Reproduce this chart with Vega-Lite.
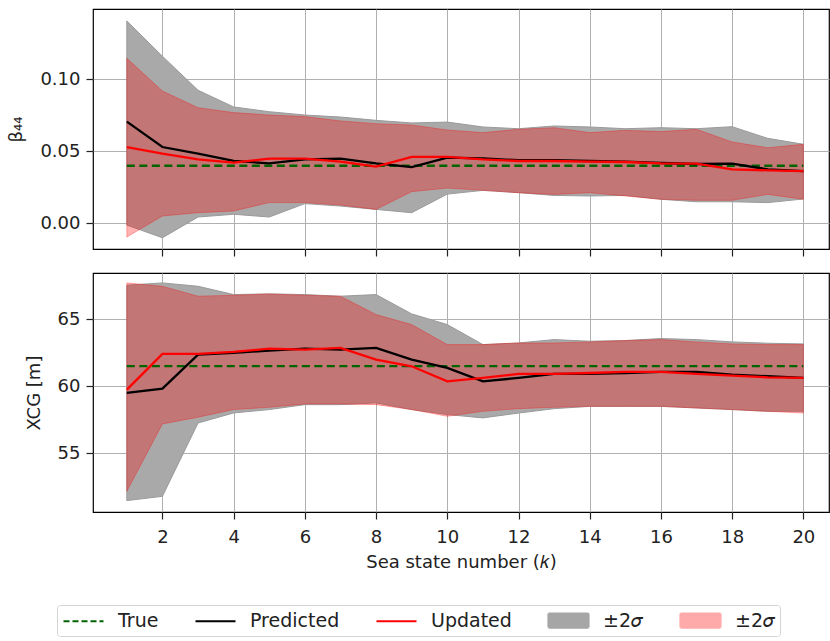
{
  "$schema": "https://vega.github.io/schema/vega-lite/v6.json",
  "padding": {"left": 7, "top": 8, "right": 0, "bottom": 0},
  "background": "white",
  "spacing": 14,
  "datasets": {
    "beta": [
      {"k": 1, "truth": 0.04, "pred": 0.0706, "pred_lo": -0.0012, "pred_hi": 0.1405, "upd": 0.053, "upd_lo": -0.0095, "upd_hi": 0.1146},
      {"k": 2, "truth": 0.04, "pred": 0.053, "pred_lo": -0.010, "pred_hi": 0.116, "upd": 0.0484, "upd_lo": 0.0051, "upd_hi": 0.0919},
      {"k": 3, "truth": 0.04, "pred": 0.0484, "pred_lo": 0.0044, "pred_hi": 0.0924, "upd": 0.0444, "upd_lo": 0.0074, "upd_hi": 0.0803},
      {"k": 4, "truth": 0.04, "pred": 0.0433, "pred_lo": 0.0063, "pred_hi": 0.0808, "upd": 0.0421, "upd_lo": 0.0086, "upd_hi": 0.0769},
      {"k": 5, "truth": 0.04, "pred": 0.0417, "pred_lo": 0.0044, "pred_hi": 0.0775, "upd": 0.0449, "upd_lo": 0.0144, "upd_hi": 0.0752},
      {"k": 6, "truth": 0.04, "pred": 0.0444, "pred_lo": 0.0137, "pred_hi": 0.0752, "upd": 0.0449, "upd_lo": 0.0144, "upd_hi": 0.0741},
      {"k": 7, "truth": 0.04, "pred": 0.0449, "pred_lo": 0.012, "pred_hi": 0.0738, "upd": 0.0428, "upd_lo": 0.0127, "upd_hi": 0.0711},
      {"k": 8, "truth": 0.04, "pred": 0.0417, "pred_lo": 0.0097, "pred_hi": 0.0715, "upd": 0.0394, "upd_lo": 0.0097, "upd_hi": 0.0692},
      {"k": 9, "truth": 0.04, "pred": 0.0391, "pred_lo": 0.0074, "pred_hi": 0.0697, "upd": 0.0461, "upd_lo": 0.022, "upd_hi": 0.0683},
      {"k": 10, "truth": 0.04, "pred": 0.0456, "pred_lo": 0.0203, "pred_hi": 0.0703, "upd": 0.0461, "upd_lo": 0.0245, "upd_hi": 0.0648},
      {"k": 11, "truth": 0.04, "pred": 0.0451, "pred_lo": 0.0229, "pred_hi": 0.0669, "upd": 0.0444, "upd_lo": 0.0229, "upd_hi": 0.063},
      {"k": 12, "truth": 0.04, "pred": 0.0438, "pred_lo": 0.0213, "pred_hi": 0.0657, "upd": 0.0433, "upd_lo": 0.0213, "upd_hi": 0.0653},
      {"k": 13, "truth": 0.04, "pred": 0.0438, "pred_lo": 0.0194, "pred_hi": 0.0676, "upd": 0.0433, "upd_lo": 0.0201, "upd_hi": 0.0664},
      {"k": 14, "truth": 0.04, "pred": 0.0433, "pred_lo": 0.019, "pred_hi": 0.0669, "upd": 0.0428, "upd_lo": 0.0213, "upd_hi": 0.063},
      {"k": 15, "truth": 0.04, "pred": 0.0428, "pred_lo": 0.0194, "pred_hi": 0.0657, "upd": 0.0426, "upd_lo": 0.019, "upd_hi": 0.0646},
      {"k": 16, "truth": 0.04, "pred": 0.0419, "pred_lo": 0.0167, "pred_hi": 0.0664, "upd": 0.0417, "upd_lo": 0.0167, "upd_hi": 0.0637},
      {"k": 17, "truth": 0.04, "pred": 0.0412, "pred_lo": 0.015, "pred_hi": 0.0657, "upd": 0.0414, "upd_lo": 0.016, "upd_hi": 0.0653},
      {"k": 18, "truth": 0.04, "pred": 0.0414, "pred_lo": 0.015, "pred_hi": 0.0671, "upd": 0.0375, "upd_lo": 0.016, "upd_hi": 0.0565},
      {"k": 19, "truth": 0.04, "pred": 0.0375, "pred_lo": 0.0144, "pred_hi": 0.059, "upd": 0.0368, "upd_lo": 0.0201, "upd_hi": 0.0525},
      {"k": 20, "truth": 0.04, "pred": 0.0363, "pred_lo": 0.0169, "pred_hi": 0.0549, "upd": 0.0363, "upd_lo": 0.0167, "upd_hi": 0.0549}
    ],
    "xcg": [
      {"k": 1, "truth": 61.5, "pred": 59.5, "pred_lo": 51.47, "pred_hi": 67.54, "upd": 59.75, "upd_lo": 52.16, "upd_hi": 67.71},
      {"k": 2, "truth": 61.5, "pred": 59.83, "pred_lo": 51.79, "pred_hi": 67.71, "upd": 62.41, "upd_lo": 57.19, "upd_hi": 67.46},
      {"k": 3, "truth": 61.5, "pred": 62.36, "pred_lo": 57.26, "pred_hi": 67.46, "upd": 62.41, "upd_lo": 57.69, "upd_hi": 66.72},
      {"k": 4, "truth": 61.5, "pred": 62.49, "pred_lo": 58.01, "pred_hi": 66.84, "upd": 62.56, "upd_lo": 58.26, "upd_hi": 66.79},
      {"k": 5, "truth": 61.5, "pred": 62.66, "pred_lo": 58.26, "pred_hi": 66.89, "upd": 62.81, "upd_lo": 58.43, "upd_hi": 66.89},
      {"k": 6, "truth": 61.5, "pred": 62.81, "pred_lo": 58.63, "pred_hi": 66.84, "upd": 62.74, "upd_lo": 58.68, "upd_hi": 66.79},
      {"k": 7, "truth": 61.5, "pred": 62.74, "pred_lo": 58.63, "pred_hi": 66.72, "upd": 62.86, "upd_lo": 58.68, "upd_hi": 66.72},
      {"k": 8, "truth": 61.5, "pred": 62.86, "pred_lo": 58.76, "pred_hi": 66.84, "upd": 61.99, "upd_lo": 58.63, "upd_hi": 65.35},
      {"k": 9, "truth": 61.5, "pred": 61.99, "pred_lo": 58.26, "pred_hi": 65.4, "upd": 61.49, "upd_lo": 58.26, "upd_hi": 64.6},
      {"k": 10, "truth": 61.5, "pred": 61.37, "pred_lo": 57.89, "pred_hi": 64.6, "upd": 60.37, "upd_lo": 57.76, "upd_hi": 63.11},
      {"k": 11, "truth": 61.5, "pred": 60.37, "pred_lo": 57.64, "pred_hi": 63.11, "upd": 60.62, "upd_lo": 58.13, "upd_hi": 63.11},
      {"k": 12, "truth": 61.5, "pred": 60.62, "pred_lo": 58.0, "pred_hi": 63.23, "upd": 60.92, "upd_lo": 58.33, "upd_hi": 63.23},
      {"k": 13, "truth": 61.5, "pred": 60.92, "pred_lo": 58.33, "pred_hi": 63.48, "upd": 60.92, "upd_lo": 58.43, "upd_hi": 63.23},
      {"k": 14, "truth": 61.5, "pred": 60.92, "pred_lo": 58.5, "pred_hi": 63.36, "upd": 60.99, "upd_lo": 58.5, "upd_hi": 63.31},
      {"k": 15, "truth": 61.5, "pred": 60.99, "pred_lo": 58.5, "pred_hi": 63.41, "upd": 61.07, "upd_lo": 58.5, "upd_hi": 63.41},
      {"k": 16, "truth": 61.5, "pred": 61.07, "pred_lo": 58.5, "pred_hi": 63.56, "upd": 61.07, "upd_lo": 58.5, "upd_hi": 63.48},
      {"k": 17, "truth": 61.5, "pred": 61.07, "pred_lo": 58.38, "pred_hi": 63.48, "upd": 60.92, "upd_lo": 58.38, "upd_hi": 63.31},
      {"k": 18, "truth": 61.5, "pred": 60.87, "pred_lo": 58.26, "pred_hi": 63.31, "upd": 60.8, "upd_lo": 58.26, "upd_hi": 63.16},
      {"k": 19, "truth": 61.5, "pred": 60.75, "pred_lo": 58.13, "pred_hi": 63.21, "upd": 60.67, "upd_lo": 58.13, "upd_hi": 63.11},
      {"k": 20, "truth": 61.5, "pred": 60.62, "pred_lo": 58.13, "pred_hi": 63.16, "upd": 60.62, "upd_lo": 58.0, "upd_hi": 63.11}
    ],
    "legend": [
      {"key": "True"}, {"key": "Predicted"}, {"key": "Updated"}, {"key": "band_pred"}, {"key": "band_upd"}
    ]
  },
  "vconcat": [
    {
      "width": 736,
      "height": 240,
      "data": {"name": "beta"},
      "encoding": {
        "x": {"field": "k", "type": "quantitative",
              "scale": {"domain": [0.05, 20.72], "nice": false, "zero": false},
              "axis": {"values": [2, 4, 6, 8, 10, 12, 14, 16, 18, 20], "labels": false, "title": null}}
      },
      "layer": [
        {"mark": {"type": "area", "fill": "#a9a9a9", "opacity": 1, "stroke": "#9a9a9a", "strokeWidth": 1},
         "encoding": {
           "y": {"field": "pred_lo", "type": "quantitative",
                 "scale": {"domain": [-0.0178, 0.1488], "nice": false, "zero": false},
                 "axis": {"values": [0, 0.05, 0.1], "format": ".2f", "title": "β₄₄"}},
           "y2": {"field": "pred_hi"}}},
        {"mark": {"type": "area", "fill": "#ff0000", "fillOpacity": 0.3, "stroke": "#ff0000", "strokeOpacity": 0.3, "strokeWidth": 1},
         "encoding": {"y": {"field": "upd_lo", "type": "quantitative"}, "y2": {"field": "upd_hi"}}},
        {"mark": {"type": "line", "stroke": "#006400", "strokeWidth": 2.3, "strokeDash": [8, 4.5]},
         "encoding": {"y": {"field": "truth", "type": "quantitative"}}},
        {"mark": {"type": "line", "stroke": "black", "strokeWidth": 2.3},
         "encoding": {"y": {"field": "pred", "type": "quantitative"}}},
        {"mark": {"type": "line", "stroke": "#ff0000", "strokeWidth": 2.3},
         "encoding": {"y": {"field": "upd", "type": "quantitative"}}}
      ]
    },
    {
      "width": 736,
      "height": 239,
      "layer": [
        {"data": {"name": "xcg"},
         "mark": {"type": "area", "fill": "#a9a9a9", "opacity": 1, "stroke": "#9a9a9a", "strokeWidth": 1},
         "encoding": {
           "x": {"field": "k", "type": "quantitative",
                 "scale": {"domain": [0.05, 20.72], "nice": false, "zero": false},
                 "axis": {"values": [2, 4, 6, 8, 10, 12, 14, 16, 18, 20], "title": "Sea state number (𝑘)"}},
           "y": {"field": "pred_lo", "type": "quantitative",
                 "scale": {"domain": [50.62, 68.45], "nice": false, "zero": false},
                 "axis": {"values": [55, 60, 65], "title": "XCG [m]"}},
           "y2": {"field": "pred_hi"}}},
        {"data": {"name": "xcg"},
         "mark": {"type": "area", "fill": "#ff0000", "fillOpacity": 0.3, "stroke": "#ff0000", "strokeOpacity": 0.3, "strokeWidth": 1},
         "encoding": {"x": {"field": "k", "type": "quantitative"}, "y": {"field": "upd_lo", "type": "quantitative"}, "y2": {"field": "upd_hi"}}},
        {"data": {"name": "xcg"},
         "mark": {"type": "line", "stroke": "#006400", "strokeWidth": 2.3, "strokeDash": [8, 4.5]},
         "encoding": {"x": {"field": "k", "type": "quantitative"}, "y": {"field": "truth", "type": "quantitative"}}},
        {"data": {"name": "xcg"},
         "mark": {"type": "line", "stroke": "black", "strokeWidth": 2.3},
         "encoding": {"x": {"field": "k", "type": "quantitative"}, "y": {"field": "pred", "type": "quantitative"}}},
        {"data": {"name": "xcg"},
         "mark": {"type": "line", "stroke": "#ff0000", "strokeWidth": 2.3},
         "encoding": {"x": {"field": "k", "type": "quantitative"}, "y": {"field": "upd", "type": "quantitative"}}},
        {"data": {"name": "legend"},
         "mark": {"type": "point", "opacity": 0, "filled": false},
         "encoding": {
           "x": {"datum": 10, "type": "quantitative"},
           "y": {"datum": 60, "type": "quantitative"},
           "shape": {"field": "key", "type": "nominal",
                     "scale": {"domain": ["True", "Predicted", "Updated", "band_pred", "band_upd"],
                               "range": ["M-2,0H2", "M-2,0H2", "M-2,0H2", "M-2,-0.7H2V0.7H-2Z", "M-2,-0.7H2V0.7H-2Z"]},
                     "legend": {"orient": "none", "legendX": -36, "legendY": 596, "direction": "horizontal", "title": null,
                                "labelExpr": "indexof(datum.label, 'band') >= 0 ? '±2𝜎' : datum.label",
                                "symbolSize": 400, "symbolStrokeWidth": 2.2, "symbolOpacity": 1, "symbolOffset": 11,
                                "labelFontSize": 19, "labelOffset": 23, "columnPadding": 32,
                                "padding": 4, "strokeColor": "#d4d4d4", "cornerRadius": 3, "fillColor": "white", "labelColor": "#222"}},
           "stroke": {"field": "key", "type": "nominal",
                      "scale": {"domain": ["True", "Predicted", "Updated", "band_pred", "band_upd"],
                                "range": ["#006400", "black", "#ff0000", "#a6a6a6", "#ffaaaa"]}},
           "fill": {"field": "key", "type": "nominal",
                    "scale": {"domain": ["True", "Predicted", "Updated", "band_pred", "band_upd"],
                              "range": ["transparent", "transparent", "transparent", "#a6a6a6", "#ffaaaa"]}},
           "strokeDash": {"field": "key", "type": "nominal",
                          "scale": {"domain": ["True", "Predicted", "Updated", "band_pred", "band_upd"],
                                    "range": [[6, 3], [1, 0], [1, 0], [1, 0], [1, 0]]}}
         }}
      ]
    }
  ],
  "config": {
    "font": "DejaVu Sans",
    "view": {"stroke": "black", "strokeWidth": 1.2},
    "axis": {
      "grid": true, "gridColor": "#b0b0b0", "gridWidth": 1,
      "domain": false,
      "tickColor": "#222", "tickSize": 7, "tickWidth": 1.2,
      "labelFontSize": 18, "labelColor": "#222", "labelPadding": 6,
      "titleFontSize": 18, "titleFontWeight": "normal", "titleColor": "#222", "titlePadding": 14
    },
    "axisX": {"titlePadding": 7, "labelPadding": 9},
    "legend": {"labelFont": "DejaVu Sans"}
  }
}
